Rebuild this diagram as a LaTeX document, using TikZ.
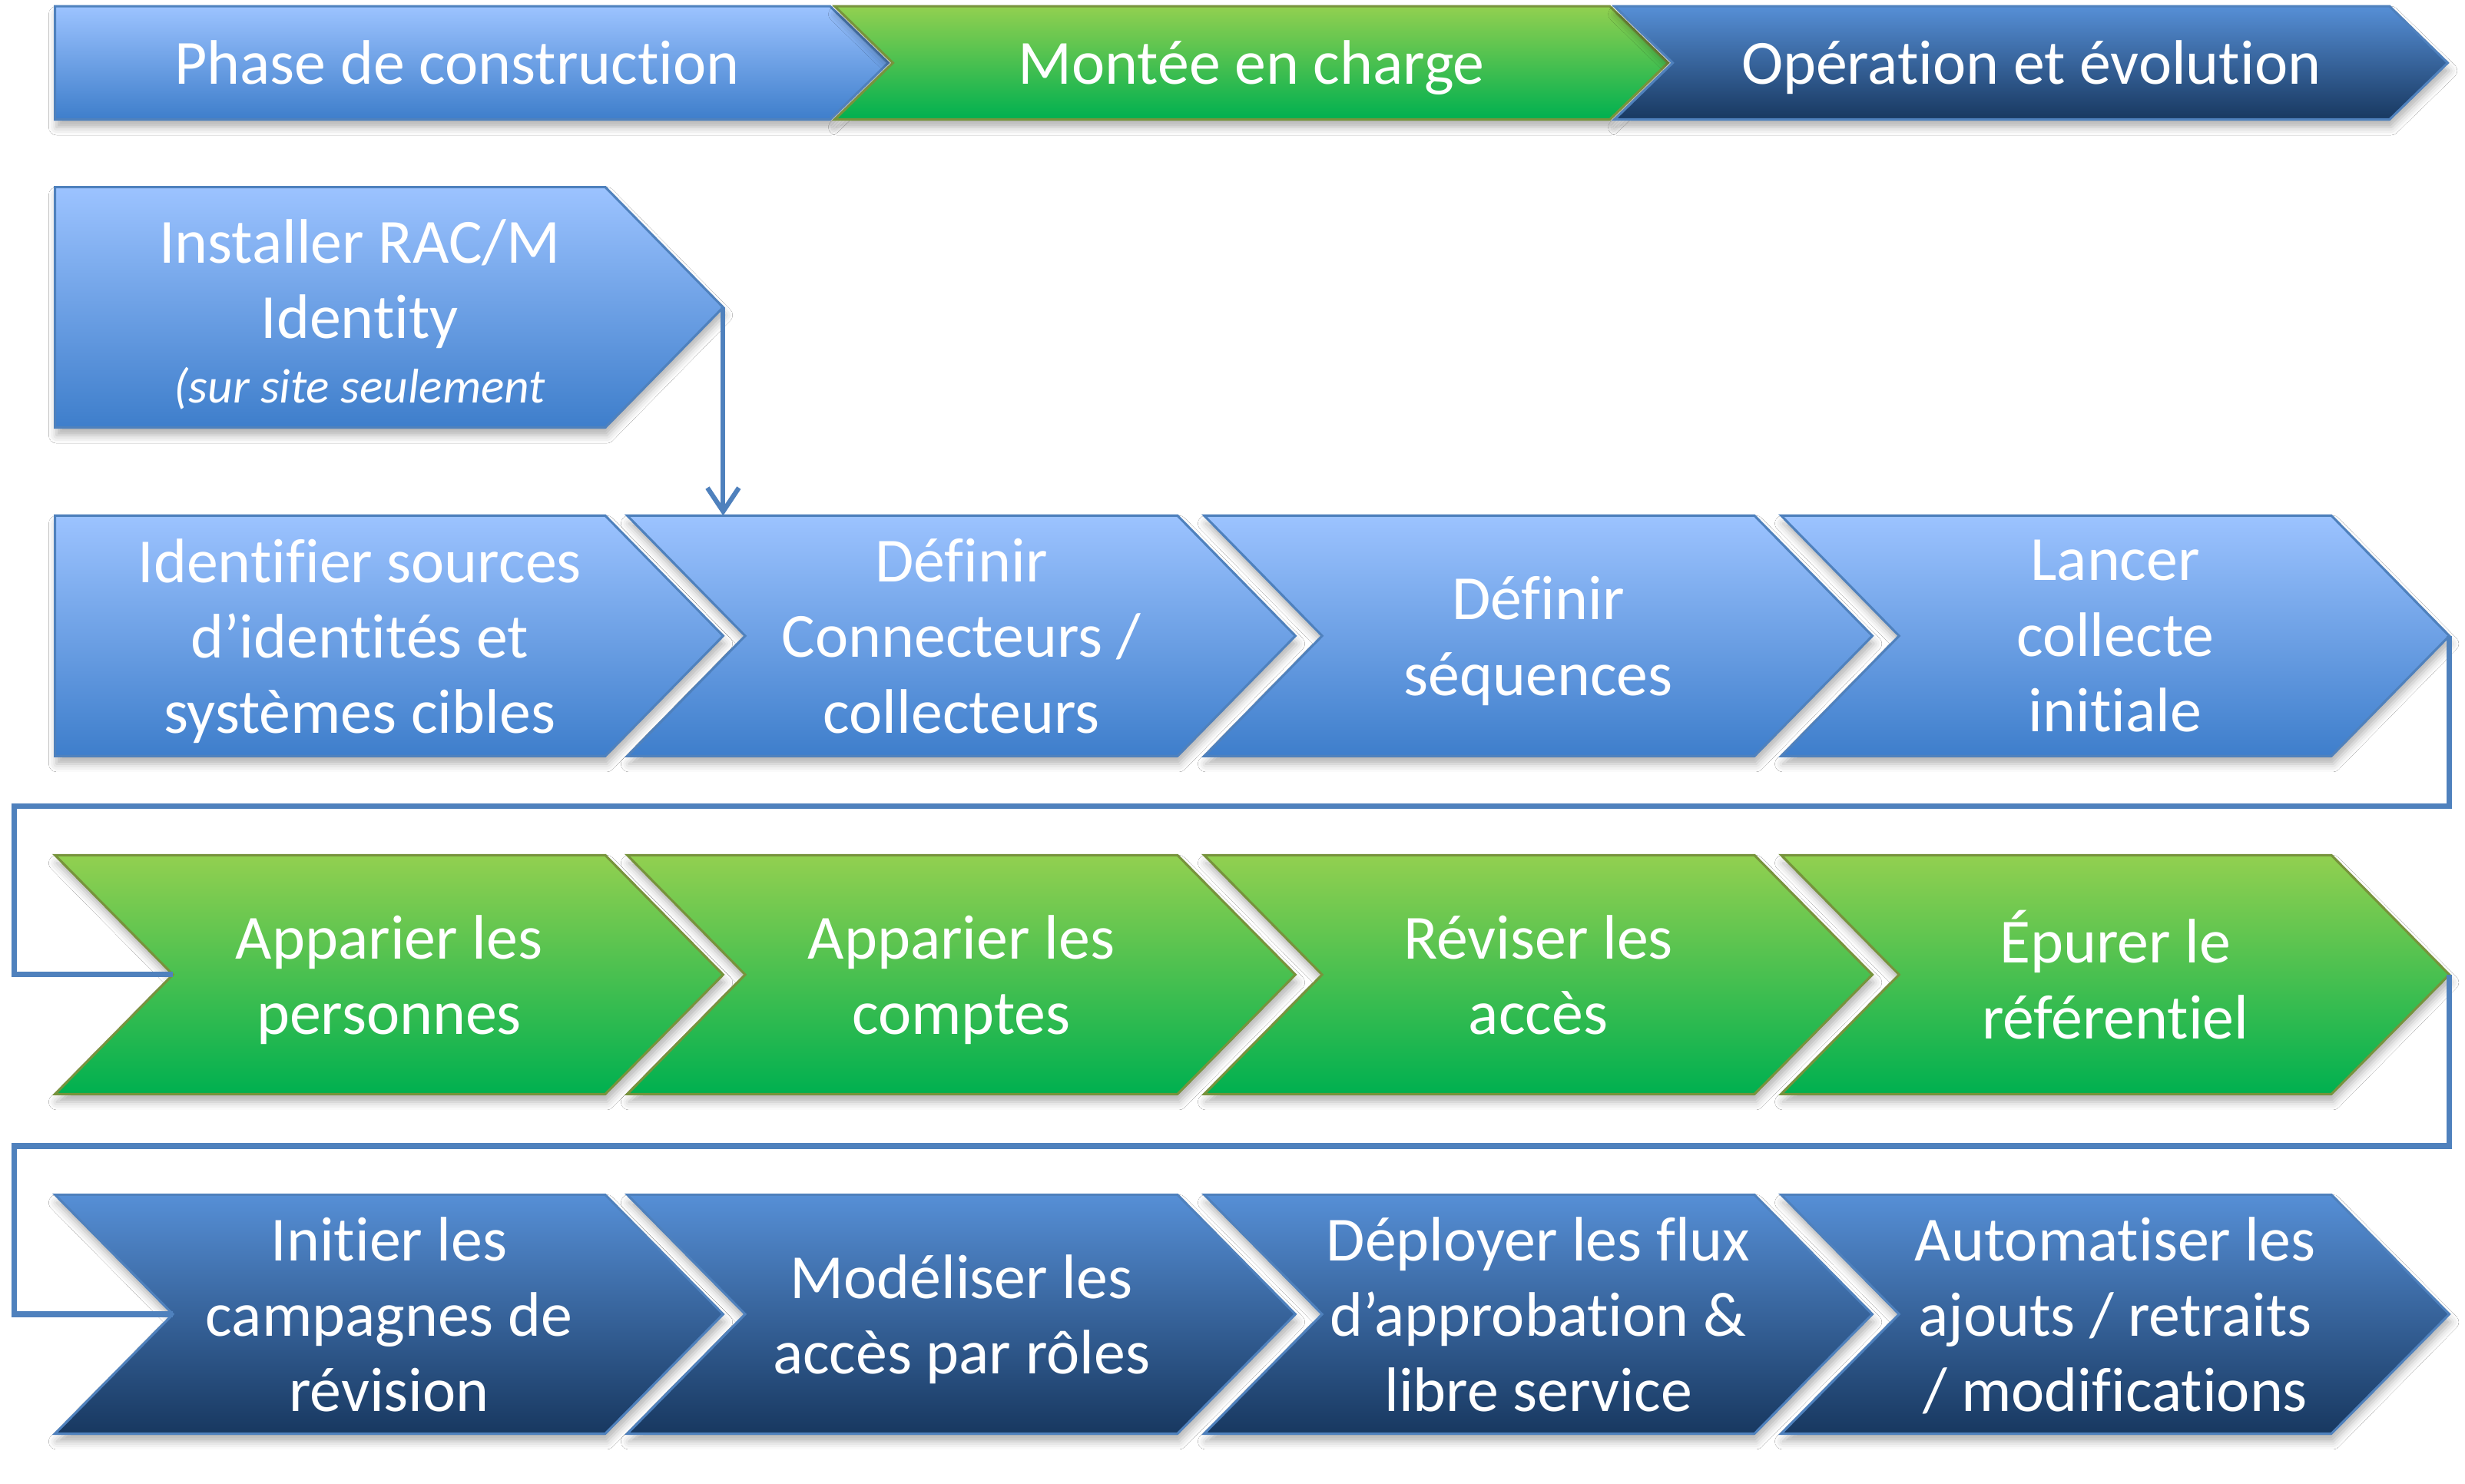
\documentclass[tikz,border=0pt]{standalone}
\usepackage{fontspec}
\setmainfont{Carlito}[Ligatures=CommonOff]
\usetikzlibrary{arrows.meta,shadows.blur}
\definecolor{lbTop}{RGB}{156,195,255}
\definecolor{lbBot}{RGB}{62,126,203}
\definecolor{gTop}{RGB}{146,208,80}
\definecolor{gBot}{RGB}{0,176,80}
\definecolor{dbTop}{RGB}{86,143,214}
\definecolor{dbBot}{RGB}{24,56,96}
\definecolor{lineBlue}{RGB}{79,129,189}
\definecolor{lineGreen}{RGB}{119,147,60}
\newcommand\mystrut{\rule[-11pt]{0pt}{47pt}}
\tikzset{
  shd/.style={blur shadow={shadow xshift=1pt, shadow yshift=-5pt, shadow blur radius=5pt, shadow opacity=30}},
  lb/.style={shd, draw=lineBlue, line width=1.5pt, top color=lbTop, bottom color=lbBot},
  gr/.style={shd, draw=lineGreen, line width=1.5pt, top color=gTop, bottom color=gBot},
  db/.style={shd, draw=lineBlue, line width=1.5pt, top color=dbTop, bottom color=dbBot},
  lbl/.style={text=white, align=center, font=\fontsize{40}{48}\selectfont, inner sep=0pt,
    execute at begin node=\mystrut, execute at end node=\mystrut, yshift=-5.5pt},
  conn/.style={draw=lineBlue, line width=3.5pt, line join=miter},
  arr/.style={draw=lineBlue, line width=3pt, -{Straight Barb[length=15pt,width=20pt]}},
}
% #1 name, #2 style, #3 x, #4 top, #5 bottom, #6 flat width, #7 depth, #8 notch, #9 text
\newcommand\mkchev[9]{%
  \path[#2] (#3,#4) -- ({#3+#6},#4) -- ({#3+#6+#7},{(#4+#5)/2}) -- ({#3+#6},#5)
     -- (#3,#5) -- ({#3+#8},{(#4+#5)/2}) -- cycle;
  \coordinate (#1-tip) at ({#3+#6+#7},{(#4+#5)/2});
  \coordinate (#1-notch) at ({#3+#8},{(#4+#5)/2});
  \coordinate (#1-tl) at (#3,#4);
  \pgfmathsetmacro\tcx{#3+(#8+#6+(#8==0)*#7/2)/2}%
  \coordinate (#1-c) at (\tcx,{(#4+#5)/2});
  \node[lbl] (#1) at (#1-c) {#9};
}
% banner variant: single line label, text placed separately
\newcommand\mkband[8]{%
  \path[#2] (#3,#4) -- ({#3+#6},#4) -- ({#3+#6+#7},{(#4+#5)/2}) -- ({#3+#6},#5)
     -- (#3,#5) -- ({#3+#8},{(#4+#5)/2}) -- cycle;
  \pgfmathsetmacro\tcx{#3+(#8+#6+(#8==0)*#7/2)/2}%
  \coordinate (#1-c) at (\tcx,{(#4+#5)/2});
}
\begin{document}
\begin{tikzpicture}[x=1pt,y=-1pt]
\useasboundingbox[fill=white] (0,0) rectangle (1568,944);
% top banner
\mkband{c1}{lb}{35}{4}{76}{493}{37}{0}
\mkband{c2}{gr}{531}{4}{76}{493}{37}{37}
\mkband{c3}{db}{1027}{4}{76}{493}{37}{37}
\node[lbl, yshift=4.5pt] (c1) at (c1-c) {Phase de construction};
\node[lbl, yshift=4.5pt] (c2) at (c2-c) {Montée en charge};
\node[lbl, yshift=4.5pt] (c3) at (c3-c) {Opération et évolution};
% installer (text placed separately)
\mkchev{inst}{lb}{35}{119}{272}{350}{75}{0}{}
\node[lbl, yshift=-2.5pt] (insttext) at (inst-c) {Installer RAC/M\\Identity\\[-7pt]{\fontsize{31}{36}\selectfont\itshape (sur site seulement}};
% row 1
\mkchev{a1}{lb}{35}{328}{481}{350}{75}{0}{Identifier sources\\d’identités et\\systèmes cibles}
\mkchev{a2}{lb}{399}{328}{481}{350}{75}{75}{Définir\\Connecteurs /\\collecteurs}
\mkchev{a3}{lb}{766}{328}{481}{350}{75}{75}{Définir\\séquences}
\mkchev{a4}{lb}{1133}{328}{481}{350}{75}{75}{Lancer\\collecte\\initiale}
% row 2
\mkchev{g1}{gr}{35}{544}{696}{350}{75}{75}{Apparier les\\personnes}
\mkchev{g2}{gr}{399}{544}{696}{350}{75}{75}{Apparier les\\comptes}
\mkchev{g3}{gr}{766}{544}{696}{350}{75}{75}{Réviser les\\accès}
\mkchev{g4}{gr}{1133}{544}{696}{350}{75}{75}{Épurer le\\référentiel}
% row 3
\mkchev{b1}{db}{35}{760}{912}{350}{75}{75}{Initier les\\campagnes de\\révision}
\mkchev{b2}{db}{399}{760}{912}{350}{75}{75}{Modéliser les\\accès par rôles}
\mkchev{b3}{db}{766}{760}{912}{350}{75}{75}{Déployer les flux\\d’approbation \&\\libre service}
\mkchev{b4}{db}{1133}{760}{912}{350}{75}{75}{Automatiser les\\ajouts / retraits\\/ modifications}
% connectors
\coordinate (k1) at (9,513);
\coordinate (k2) at (9,729);
\draw[arr] (inst-tip) -- (inst-tip |- a2-tl);
\draw[conn] (a4-tip) |- (k1) |- (g1-notch);
\draw[conn] (g4-tip) |- (k2) |- (b1-notch);
\end{tikzpicture}
\end{document}
